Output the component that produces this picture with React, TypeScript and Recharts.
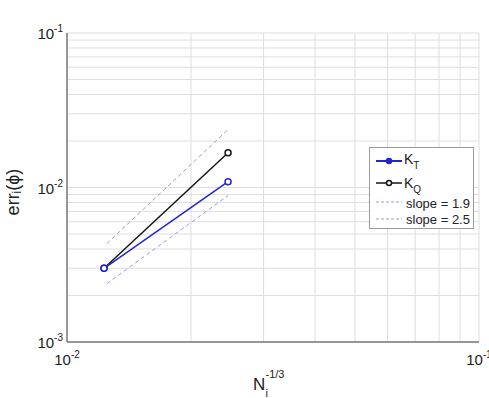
import { CartesianGrid, Line, LineChart, XAxis, YAxis } from "recharts";

// values (log-log)
const nInv = [0.0123, 0.0246];
const errKT = [0.003, 0.0109];
const errKQ = [0.003, 0.0168];
const refX = [0.0125, 0.0246];
const refSlope19 = [0.00239, 0.00887];
const refSlope25 = [0.00434, 0.0237];

const xTicks = [0.01, 0.02, 0.03, 0.04, 0.05, 0.06, 0.07, 0.08, 0.09, 0.1];
const yTicks = [
  0.001, 0.002, 0.003, 0.004, 0.005, 0.006, 0.007, 0.008, 0.009,
  0.01, 0.02, 0.03, 0.04, 0.05, 0.06, 0.07, 0.08, 0.09, 0.1,
];

const toPoints = (xs: number[], ys: number[]) => xs.map((x, i) => ({ x, y: ys[i] }));

const FONT = '"Liberation Sans", Arial, Helvetica, sans-serif';
const BLUE = "#2424d0";
const BLACK = "#151515";
const AXIS = "#7a7a7a";

function decade(v: number) {
  const e = Math.round(Math.log10(v));
  return Math.abs(Math.log10(v) - e) < 1e-6 ? e : null;
}

function XTick({ x, y, payload }: any) {
  const e = decade(payload.value);
  if (e === null) return <g />;
  return (
    <text x={x} y={y + 21} textAnchor="middle" fontSize={15} fill="#222" fontFamily={FONT}>
      10
      <tspan dy={-7} fontSize={10}>
        {e}
      </tspan>
    </text>
  );
}

function YTick({ x, y, payload }: any) {
  const e = decade(payload.value);
  if (e === null) return <g />;
  return (
    <text x={x - 2} y={y + 6} textAnchor="end" fontSize={15} fill="#222" fontFamily={FONT}>
      10
      <tspan dy={-7} fontSize={10}>
        {e}
      </tspan>
    </text>
  );
}

function Marker({ cx, cy, stroke }: any) {
  return <circle cx={cx} cy={cy} r={3} stroke={stroke} strokeWidth={1.5} fill="#fff" />;
}

function TitleLabel({ viewBox }: any) {
  const cx = viewBox.x + viewBox.width / 2;
  return (
    <text x={cx} y={22} textAnchor="middle" fontSize={17.5} fill="#222" fontFamily={FONT}>
      Convergence error of thrust and torque
    </text>
  );
}

function XLabel({ viewBox }: any) {
  const cx = viewBox.x + viewBox.width / 2;
  return (
    <g fontFamily={FONT} fill="#222">
      <text x={cx - 20} y={390} fontSize={17}>N</text>
      <text x={cx - 7.5} y={397} fontSize={11}>i</text>
      <text x={cx - 7.5} y={378} fontSize={11}>-1/3</text>
    </g>
  );
}

function YLabel() {
  return (
    <text
      x={13}
      y={192}
      transform="rotate(-90 13 192)"
      textAnchor="middle"
      dominantBaseline="central"
      fontSize={18}
      fill="#222"
      fontFamily={FONT}
    >
      err
      <tspan dy={4} fontSize={12}>i</tspan>
      <tspan dy={-4}>(ϕ)</tspan>
    </text>
  );
}

function LegendBox() {
  return (
    <div
      style={{
        position: "absolute",
        left: 369,
        top: 147,
        width: 105,
        height: 82,
        boxSizing: "border-box",
        border: "1px solid #9a9a9a",
        background: "#fff",
      }}
    >
      <svg width={103} height={80} style={{ fontFamily: FONT }}>
        <line x1={6} x2={32} y1={13} y2={13} stroke={BLUE} strokeWidth={2} />
        <circle cx={19} cy={13} r={2.5} stroke={BLUE} strokeWidth={1.5} fill={BLUE} />
        <text x={34} y={16} fontSize={14} fill="#222">
          K<tspan dy={5} fontSize={10}>T</tspan>
        </text>
        <line x1={6} x2={32} y1={35} y2={35} stroke={BLACK} strokeWidth={1.5} />
        <circle cx={19} cy={35} r={2.5} stroke={BLACK} strokeWidth={1.5} fill="#fff" />
        <text x={34} y={40} fontSize={14} fill="#222">
          K<tspan dy={5} fontSize={10}>Q</tspan>
        </text>
        <line x1={6} x2={32} y1={54} y2={54} stroke="#9a9af0" strokeWidth={1} strokeDasharray="3 2" />
        <text x={36} y={60} fontSize={13} fill="#222">slope = 1.9</text>
        <line x1={6} x2={32} y1={71} y2={71} stroke="#a0a0a0" strokeWidth={1} strokeDasharray="3 2" />
        <text x={36} y={76} fontSize={13} fill="#222">slope = 2.5</text>
      </svg>
    </div>
  );
}

export default function App() {
  return (
    <div style={{ position: "absolute", left: 0, top: 0, width: 489, height: 398, background: "#fff" }}>
      <LineChart width={489} height={398} margin={{ top: 33, right: 10, left: 0, bottom: 0 }}>
        <CartesianGrid stroke="#dedede" strokeWidth={1} />
        <XAxis
          dataKey="x"
          type="number"
          scale="log"
          domain={[0.01, 0.1]}
          ticks={xTicks}
          interval={0}
          allowDataOverflow
          height={56}
          tickSize={0}
          tickLine={false}
          tick={<XTick />}
          axisLine={{ stroke: AXIS, strokeWidth: 1.5 }}
          label={<XLabel />}
        />
        <XAxis
          xAxisId="top"
          orientation="top"
          type="number"
          scale="log"
          domain={[0.01, 0.1]}
          allowDataOverflow
          height={0}
          tick={false}
          tickLine={false}
          axisLine={{ stroke: AXIS, strokeWidth: 1.5 }}
          label={<TitleLabel />}
        />
        <YAxis
          dataKey="y"
          type="number"
          scale="log"
          domain={[0.001, 0.1]}
          ticks={yTicks}
          interval={0}
          allowDataOverflow
          width={67}
          tickSize={0}
          tickLine={false}
          tick={<YTick />}
          axisLine={{ stroke: AXIS, strokeWidth: 1.5 }}
          label={<YLabel />}
        />
        <YAxis
          yAxisId="right"
          orientation="right"
          type="number"
          scale="log"
          domain={[0.001, 0.1]}
          allowDataOverflow
          width={0}
          tick={false}
          tickLine={false}
          axisLine={{ stroke: AXIS, strokeWidth: 1.5 }}
        />
        <Line
          data={toPoints(refX, refSlope19)}
          dataKey="y"
          stroke="#9a9af0"
          strokeWidth={1}
          strokeDasharray="4 3"
          dot={false}
          isAnimationActive={false}
        />
        <Line
          data={toPoints(refX, refSlope25)}
          dataKey="y"
          stroke="#a0a0a0"
          strokeWidth={1}
          strokeDasharray="4 3"
          dot={false}
          isAnimationActive={false}
        />
        <Line
          data={toPoints(nInv, errKQ)}
          dataKey="y"
          stroke={BLACK}
          strokeWidth={1.5}
          dot={<Marker stroke={BLACK} />}
          isAnimationActive={false}
        />
        <Line
          data={toPoints(nInv, errKT)}
          dataKey="y"
          stroke={BLUE}
          strokeWidth={1.5}
          dot={<Marker stroke={BLUE} />}
          isAnimationActive={false}
        />
      </LineChart>
      <LegendBox />
    </div>
  );
}
